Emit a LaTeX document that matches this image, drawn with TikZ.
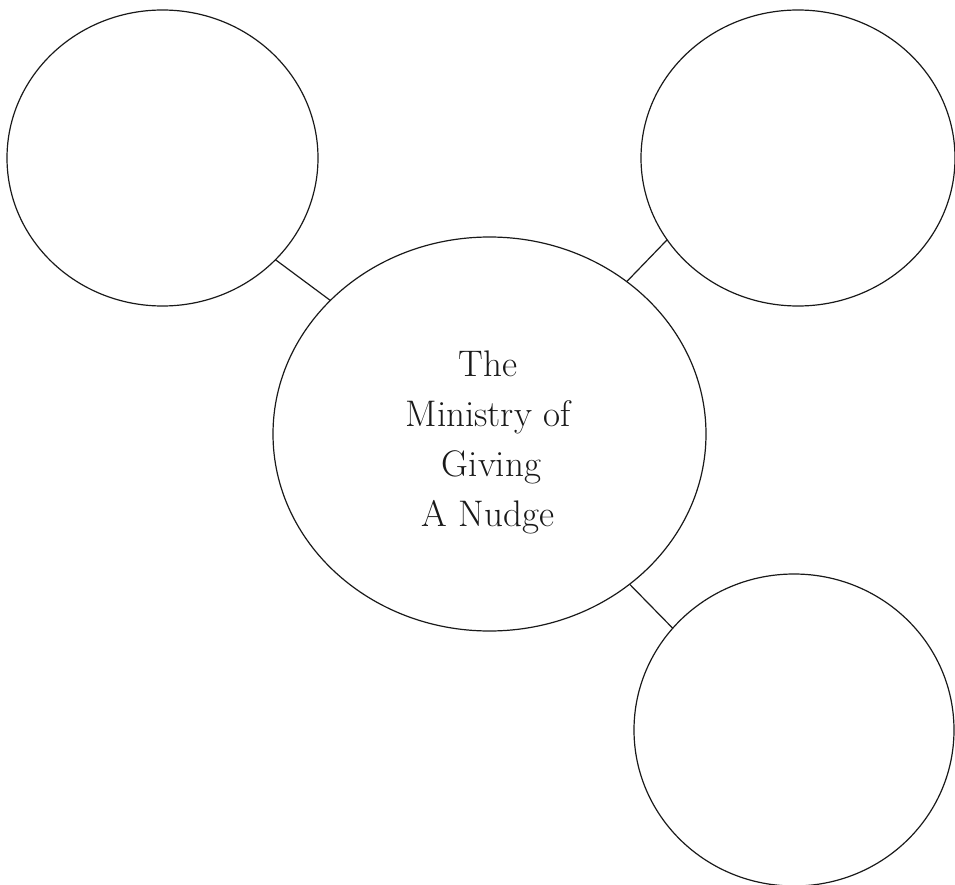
\documentclass[tikz,border=0pt]{standalone}
\usetikzlibrary{shapes.geometric}
\begin{document}
\begin{tikzpicture}[x=1pt,y=-1pt,
  bubble/.style={draw=black!90, line width=1.2pt, ellipse, inner sep=0pt, outer sep=0pt},
  link/.style={draw=black!90, line width=1.2pt},
  title/.style={inner sep=0pt, align=center, font=\fontsize{37}{50}\selectfont, text=black!90}]
\useasboundingbox (0,0) rectangle (955,885);
\node[bubble, minimum width=311pt, minimum height=296pt] (tl) at (162.5,158) {};
\node[bubble, minimum width=314pt, minimum height=296pt] (tr) at (798,158) {};
\node[bubble, minimum width=433pt, minimum height=394pt] (c) at (489.5,434) {};
\node[bubble, minimum width=320pt, minimum height=312pt] (br) at (794,730) {};
\node[title, anchor=north] (txt) at (488,351) {The\\Ministry of\\\hspace*{7pt}Giving\\A Nudge};
\draw[link] (tl.-42.7) -- (c.140.8);
\draw[link] (tr.-148.8) -- (c.48.4);
\draw[link] (c.-47.5) -- (br.140.2);
\end{tikzpicture}
\end{document}
